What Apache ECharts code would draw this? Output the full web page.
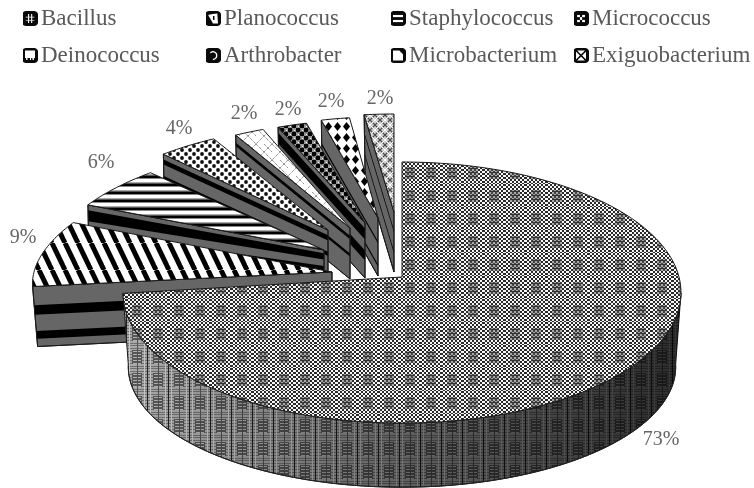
<!DOCTYPE html>
<html><head><meta charset="utf-8">
<style>html,body{margin:0;padding:0;background:#fff}#c{width:754px;height:488px}</style>
<script src="https://cdn.jsdelivr.net/npm/echarts@6/dist/echarts.min.js"></script>
</head><body><div id="c"></div>
<script>
const categories = ['Bacillus','Planococcus','Staphylococcus','Micrococcus','Deinococcus','Arthrobacter','Microbacterium','Exiguobacterium'];
const percentValues = [73,9,6,4,2,2,2,2];
const legendColumns = [22,205,390,573];
const legendRows = [7,44];
const labelCentres = [[661,440],[23,238],[101,163],[179,129],[244,114],[288,110],[331,102],[380,99]];
// exploded wedge layout: apex x, apex y, radius x, radius y, depth at rim, depth at apex
const wedgeLayout = [null,
 [332,272,298,116,60,60],[324,250,272,106,55,32],[328,230,258,104,52,52],
 [350,228,258,106,51,51],[365,223,258,103,55,55],[378,218,250,101,58,58],[394,212,262,98,60,60]];
const sideBands = [null,
 [[.31,.47],[.74,.87]],[[.1,.3],[.5,.7]],[[.1,.2],[.42,.5]],[[.15,.22],[.5,.56]],
 [[.1,.3],[.5,.68]],[[.4,.44],[.8,.84]],[[.3,.34],[.65,.69]]];

function tile(w,h,draw){const c=document.createElement('canvas');c.width=w;c.height=h;const g=c.getContext('2d');g.fillStyle='#fff';g.fillRect(0,0,w,h);draw(g,w,h);return {image:c,repeat:'repeat'};}
const R=(g,col,x,y,w,h)=>{g.fillStyle=col;g.fillRect(x,y,w,h);};
function latticeTop(g,w,h){
  for(let j=0;j<h;j+=2)for(let i=0;i<w;i+=2){
    const d=((i+j)/2)%2===0;
    const inner=i>=5&&i<16&&j>=5&&j<18;
    R(g,inner?(d?'#444':'#a8a8a8'):(d?'#2a2a2a':'#f6f6f6'),i,j,2,2);
  }
  for(let j=7;j<18;j+=4)R(g,'#333',6,j,10,1);
}
function latticeSide(g,w,h){
  R(g,'#b0b0b0',0,0,w,h);
  for(let j=0;j<h;j+=3)R(g,'#777',0,j,w,1);
  R(g,'#5a5a5a',6,5,10,14);
  for(let j=6;j<19;j+=3)R(g,'#bbb',7,j,8,1);
  R(g,'#222',0,0,1,h);R(g,'#555',11,0,1,h);R(g,'#d0d0d0',3,0,1,h);R(g,'#d0d0d0',18,0,1,h);
}
const patterns = [
 tile(21,23,latticeTop),
 tile(13,27,(g)=>{g.strokeStyle='#000';g.lineWidth=5;for(let o=-13;o<=13;o+=13){g.beginPath();g.moveTo(o,0);g.lineTo(o+13,27);g.stroke();}}),
 tile(2,8,(g)=>{R(g,'#000',0,0,2,2);R(g,'#888',0,2,2,1);R(g,'#aaa',0,6,2,1);R(g,'#555',0,7,2,1);}),
 tile(8,8,(g)=>{g.fillStyle='#111';[[2,2],[6,6]].forEach(p=>{g.beginPath();g.arc(p[0],p[1],1.9,0,7);g.fill();});}),
 tile(16,16,(g)=>{g.strokeStyle='#666';g.lineWidth=1;g.setLineDash([1,1]);g.beginPath();g.moveTo(0,0);g.lineTo(16,16);g.moveTo(16,0);g.lineTo(0,16);g.moveTo(8,0);g.lineTo(16,8);g.stroke();}),
 tile(8,8,(g)=>{R(g,'#999',0,0,8,8);g.fillStyle='#000';[[2,2],[6,6]].forEach(p=>{g.beginPath();g.arc(p[0],p[1],2.4,0,7);g.fill();});R(g,'#fff',6,2,1,1);R(g,'#fff',2,6,1,1);}),
 tile(9,11,(g)=>{g.fillStyle='#000';g.beginPath();g.moveTo(4.5,1);g.lineTo(8,5.5);g.lineTo(4.5,10);g.lineTo(1,5.5);g.closePath();g.fill();}),
 tile(10,10,(g)=>{R(g,'#cfcfcf',0,0,10,10);g.strokeStyle='#444';g.lineWidth=1.2;g.beginPath();g.moveTo(0,0);g.lineTo(10,10);g.moveTo(10,0);g.lineTo(0,10);g.stroke();g.strokeStyle='#fff';g.lineWidth=1;g.beginPath();g.moveTo(5,0);g.lineTo(10,5);g.lineTo(5,10);g.lineTo(0,5);g.closePath();g.stroke();})
];
const sidePattern = tile(21,23,latticeSide);

function legendIcon(i){
  const c=document.createElement('canvas');c.width=48;c.height=48;const g=c.getContext('2d');
  g.scale(4,4);
  g.fillStyle='#0a0a0a';g.beginPath();g.roundRect(0,0,12,12,2.5);g.fill();
  g.fillStyle='#fff';
  const r=(x,y,w,h)=>g.fillRect(x,y,w,h);
  if(i===0){for(const a of [4.5,7]){r(a,2.5,.7,7);r(2.5,a,7,.7);}}
  if(i===1){g.beginPath();g.moveTo(2,3);g.lineTo(9.5,2);g.lineTo(10,10);g.lineTo(6,10);g.closePath();g.fill();g.fillStyle='#0a0a0a';r(6,4,1.2,3);}
  if(i===2){r(2,3,8,2);r(2,7,8,2);}
  if(i===3){r(3,3,2,2);r(7,3,2,2);r(5,5,2,2);r(3,7,2,2);r(7,7,2,2);}
  if(i===4){r(2,2,8,6);r(3,8,1,1.5);r(6,8,1,1.5);r(8,8,1,1.5);}
  if(i===5){g.strokeStyle='#fff';g.lineWidth=1;g.beginPath();g.arc(6,6,3,-2.4,1.6);g.stroke();}
  if(i===6){g.beginPath();g.moveTo(2,2);g.lineTo(7,2);g.lineTo(10,5);g.lineTo(10,10);g.lineTo(2,10);g.closePath();g.fill();}
  if(i===7){r(2,2,8,8);g.strokeStyle='#0a0a0a';g.lineWidth=1.2;g.beginPath();g.moveTo(2,2);g.lineTo(10,10);g.moveTo(10,2);g.lineTo(2,10);g.stroke();}
  return 'image://'+c.toDataURL();
}

const total = percentValues.reduce((a,b)=>a+b,0);
let acc=0;
const spans = percentValues.map(v=>{const s=acc;acc+=v/total*360;return [s,acc];});
const rad=d=>d*Math.PI/180;
const OUT='#1a1a1a';
const mainTop={ax:402,ay:277,r:277,h:128.7,k:.119}, mainBase={ax:402,ay:350,r:271,h:118,k:.14};
const onDisc=(m,d)=>{const u=Math.sin(rad(d)),v=Math.cos(rad(d)),w=1+m.k*v;return [m.ax+m.r*u/w,m.ay-m.h*v/w];};

function renderMain(idx){
  const [s,e]=spans[idx];
  const top=[[mainTop.ax,mainTop.ay]],rim=[],base=[];
  for(let d=s;d<=e+.001;d+=1.8)top.push(onDisc(mainTop,d));
  top.push(onDisc(mainTop,e));
  for(let d=97;d<=e+.001;d+=1.8){rim.push(onDisc(mainTop,d));base.unshift(onDisc(mainBase,d));}
  rim.push(onDisc(mainTop,e));base.unshift(onDisc(mainBase,e));
  const side=rim.concat(base);
  const shade={type:'linear',x:120,y:0,x2:682,y2:0,global:true,colorStops:[
    {offset:0,color:'rgba(0,0,0,.02)'},{offset:.25,color:'rgba(0,0,0,.25)'},{offset:.5,color:'rgba(0,0,0,.45)'},{offset:1,color:'rgba(0,0,0,.75)'}]};
  return [
   {type:'polygon',shape:{points:side},style:{fill:sidePattern,stroke:OUT,lineWidth:1}},
   {type:'polygon',shape:{points:side},style:{fill:shade}},
   {type:'polyline',shape:{points:base},style:{fill:null,stroke:'#222',lineWidth:1}},
   {type:'polygon',shape:{points:top},style:{fill:patterns[idx],stroke:OUT,lineWidth:1}}
  ];
}
function renderWedge(idx){
  const [s,e]=spans[idx],[ax,ay,rx,ry,dr,da]=wedgeLayout[idx];
  const P=d=>{const v=Math.cos(rad(d));return [ax+rx*Math.sin(rad(d))/(1+.1*v),ay-ry*v];};
  const top=[[ax,ay]];
  for(let d=s;d<e;d+=1)top.push(P(d));
  top.push(P(e));
  const c=P(s),cb=[c[0]+(idx===1?5:1),c[1]+dr],ab=[ax,ay+da];
  const lerp=(a,b,t)=>[a[0]+(b[0]-a[0])*t,a[1]+(b[1]-a[1])*t];
  const kids=[{type:'polygon',shape:{points:[c,[ax,ay],ab,cb]},style:{fill:'#666',stroke:OUT,lineWidth:1}}];
  sideBands[idx].forEach(b=>kids.push({type:'polygon',shape:{points:[lerp(c,cb,b[0]),lerp([ax,ay],ab,b[0]),lerp([ax,ay],ab,b[1]),lerp(c,cb,b[1])]},style:{fill:'#000'}}));
  kids.push({type:'polygon',shape:{points:[c,[ax,ay],ab,cb]},style:{fill:null,stroke:OUT,lineWidth:1}});
  kids.push({type:'polygon',shape:{points:top},style:{fill:patterns[idx],stroke:OUT,lineWidth:1}});
  return kids;
}
const series = categories.map((name,i)=>i).reverse().map(i=>({
  type:'custom',name:categories[i],coordinateSystem:'none',silent:true,animation:false,clip:false,
  itemStyle:{color:'#000'},
  data:[percentValues[i]],
  renderItem:()=>({type:'group',children:(i===0?renderMain(i):renderWedge(i)).concat([{
    type:'text',x:labelCentres[i][0],y:labelCentres[i][1],
    style:{text:percentValues[i]+'%',font:'20px "Liberation Serif"',fill:'#666',align:'center',verticalAlign:'middle'}}])})
}));
const legends = categories.map((name,i)=>({
  show:true,orient:'horizontal',selectedMode:false,padding:0,
  left:legendColumns[i%4],top:legendRows[i<4?0:1],
  itemWidth:16,itemHeight:15,itemGap:0,
  data:[{name:name,icon:legendIcon(i)}],
  textStyle:{fontFamily:'Liberation Serif',fontSize:23,color:'#595959',padding:[0,0,0,-2]}
}));
const chart=echarts.init(document.getElementById('c'),null,{renderer:'canvas',width:754,height:488});
chart.setOption({animation:false,backgroundColor:'#fff',legend:legends,series:series});
</script></body></html>
